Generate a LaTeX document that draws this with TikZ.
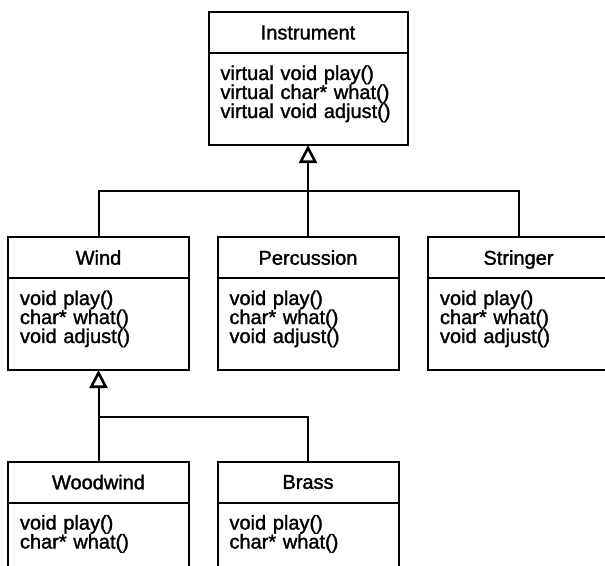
\documentclass[tikz,border=0pt]{standalone}
\usepackage{fontspec}
\setmainfont{Liberation Sans}[BoldFont=Liberation Sans,BoldFeatures={FakeBold=1.5}]
\usetikzlibrary{positioning,arrows.meta}
\newcommand{\meth}[1]{\lineskiplimit=-50bp\relax\rule{0pt}{27bp}#1\rule[-27bp]{0pt}{27bp}}

\begin{document}
\begin{tikzpicture}[x=1bp,y=-1bp,
    every node/.style={font=\fontsize{20bp}{19bp}\selectfont\bfseries},
    cls/.style={draw,line width=2bp,outer sep=0pt,inner sep=0pt,
      minimum width=181bp,minimum height=41bp,text depth=0pt},
    ops/.style={draw,line width=2bp,outer sep=0pt,inner xsep=12bp,
      inner ysep=0pt,text width=157bp,align=left},
    isa/.style={-{Triangle[open,length=18bp,width=18bp,line width=2.6bp]},line width=2bp}]

  \useasboundingbox (0,0) rectangle (605,566);
  \clip (0,0) rectangle (605,566);

  \node (instr) [cls,minimum width=199bp] at (308,32.5) {Instrument};
  \node (instrops) [ops,text width=175bp,below=0pt of instr]
    {\meth{virtual void play()\\virtual char* what()\\virtual void adjust()}};

  \node (wind)  [cls] at (98.5,257.5) {Wind};
  \node (perc)  [cls] at (308,257.5) {Percussion};
  \node (strng) [cls] at (518.5,257.5) {Stringer};
  \node (windops)  [ops,below=0pt of wind]  {\meth{void play()\\char* what()\\void adjust()}};
  \node (percops)  [ops,below=0pt of perc]  {\meth{void play()\\char* what()\\void adjust()}};
  \node (strngops) [ops,below=0pt of strng] {\meth{void play()\\char* what()\\void adjust()}};

  \node (wood)  [cls] at (98.5,482) {Woodwind};
  \node (brass) [cls] at (308,482) {Brass};
  \node (woodops)  [ops,below=0pt of wood]  {\meth{void play()\\char* what()}};
  \node (brassops) [ops,below=0pt of brass] {\meth{void play()\\char* what()}};

  %% -- edges
  \coordinate (upper) at (308,191);
  \coordinate (lower) at (98.5,417);
  %% instrument
  \draw[isa] (perc.north) -- (instrops.south);
  \draw[line width=2bp] (wind.north) |- (upper) -| (strng.north);
  %% wind
  \draw[isa] (wood.north) -- (windops.south);
  \draw[line width=2bp] (brass.north) |- (lower);

\end{tikzpicture}
\end{document}
